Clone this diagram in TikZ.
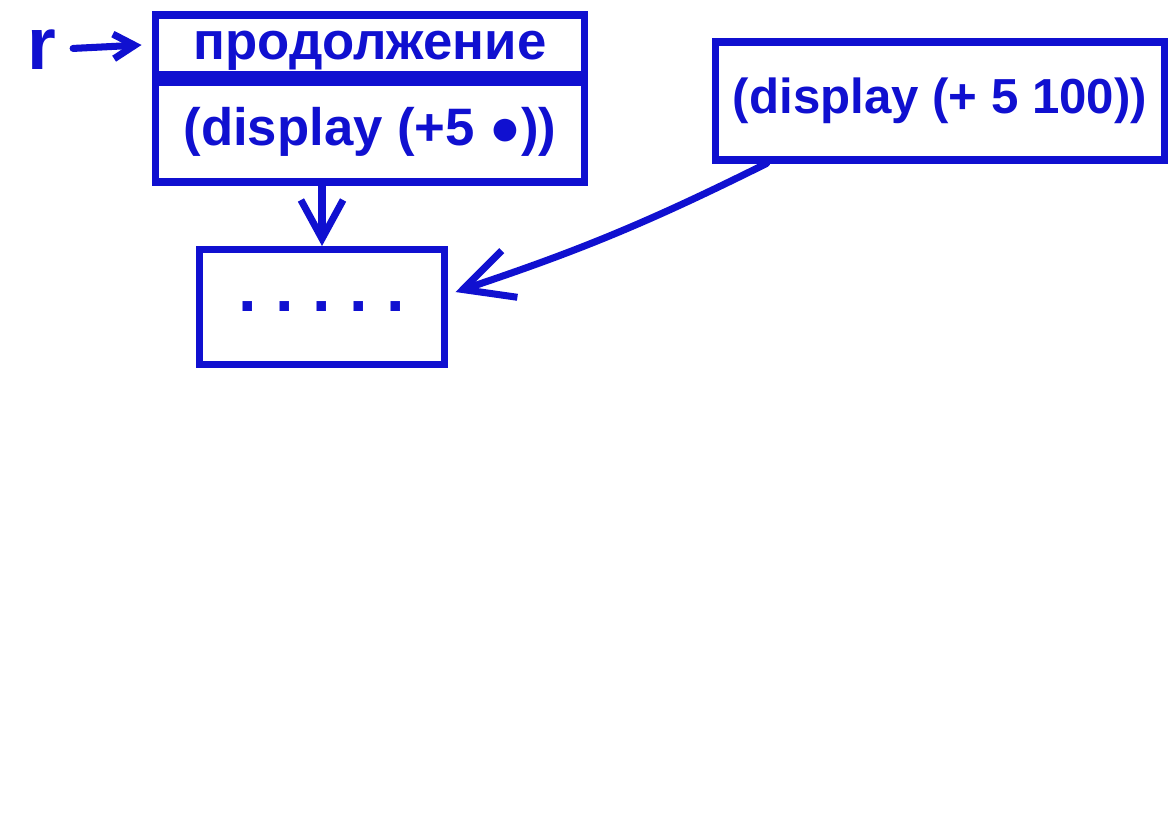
\documentclass[tikz,border=0pt]{standalone}
\usepackage{fontspec}
\setmainfont{Liberation Sans}
\usetikzlibrary{arrows.meta}
\definecolor{marker}{RGB}{16,16,208}
\tikzset{
  box/.style={draw=marker, line width=4pt, inner sep=0pt, text=marker,
    font=\bfseries\fontsize{30}{32}\selectfont},
  arr/.style={draw=marker, line width=4pt, line cap=round, line join=round,
    -{Straight Barb[length=22pt,width=24pt]}},
}

\begin{document}
\begin{tikzpicture}[x=0.02cm, y=-0.02cm]
    \fill[white] (0,0) rectangle (1168,824);
    \useasboundingbox (0,0) rectangle (1168,824);
    % the continuation and its body
    \node[box, text height=21pt, text depth=5pt,
      minimum width=8.6cm, minimum height=1.2cm] (kont) at (370,45) {продолжение};
    \node[box, minimum width=8.6cm, minimum height=2cm, anchor=north] (kbody) at (kont.south) {(display (+5 ●))};
    \node[text=marker, font=\bfseries\fontsize{42}{44}\selectfont] (r) at (42,50) {r};
    \draw[arr, shorten <=6pt, -{Straight Barb[length=12pt,width=14pt]}] (r) -- ([xshift=-0.2cm]kont.west);
    % the other call
    \node[box, font=\bfseries\fontsize{28}{30}\selectfont, minimum width=9cm, minimum height=2.36cm] (dsp) at (940,101) {(display (+ 5 100))};
    % the shared rest
    \node[box, font=\bfseries\fontsize{38}{40}\selectfont, minimum width=4.9cm, minimum height=2.3cm] (dots) at (322,307) {.\ .\ .\ .\ .};
    \draw[arr] (kbody.south -| dots.north) -- (dots.north);
    \draw[arr, -{Straight Barb[length=28pt,width=28pt]}] ([xshift=1.1cm]dsp.south west) to[bend left=4] ([xshift=0.15cm,yshift=0.3cm]dots.east);
\end{tikzpicture}
\end{document}
